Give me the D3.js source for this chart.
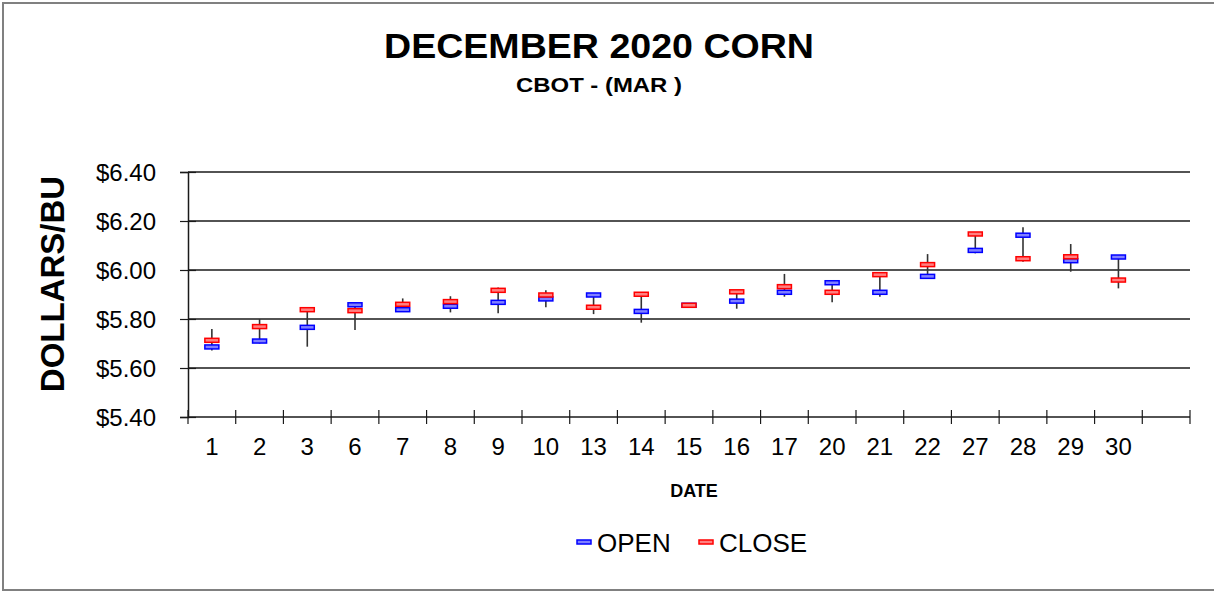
<!DOCTYPE html>
<html>
<head>
<meta charset="utf-8">
<script src="https://cdn.jsdelivr.net/npm/d3@7"></script>
<style>
  body { margin: 0; background: #fff; }
  text { font-family: "Liberation Sans", Arial, sans-serif; fill: #000; }
</style>
</head>
<body>
<div id="chart"></div>
<script>
// Trading days in the month
const dates = ["1","2","3","6","7","8","9","10","13","14","15","16","17","20","21","22","27","28","29","30"];
const openPrices  = [5.686, 5.710, 5.766, 5.858, 5.838, 5.852, 5.868, 5.882, 5.898, 5.831, 5.856, 5.873, 5.909, 5.948, 5.909, 5.974, 6.080, 6.142, 6.038, 6.053];
const closePrices = [5.713, 5.769, 5.838, 5.834, 5.860, 5.871, 5.917, 5.898, 5.848, 5.901, 5.856, 5.911, 5.932, 5.909, 5.981, 6.022, 6.147, 6.046, 6.054, 5.959];
const highPrices  = [5.759, 5.800, 5.840, 5.860, 5.884, 5.893, 5.929, 5.917, 5.898, 5.909, 5.856, 5.911, 5.984, 5.948, 5.981, 6.065, 6.147, 6.174, 6.106, 6.053];
const lowPrices   = [5.671, 5.700, 5.687, 5.755, 5.835, 5.827, 5.823, 5.848, 5.820, 5.785, 5.856, 5.842, 5.891, 5.868, 5.891, 5.974, 6.068, 6.034, 5.993, 5.925];
const yTicks = [5.40, 5.60, 5.80, 6.00, 6.20, 6.40];

const width = 1214, height = 591;
const plotLeft = 188, plotRight = 1190, plotTop = 172, plotBottom = 417;

const svg = d3.select("#chart").append("svg")
  .attr("width", width)
  .attr("height", height);

// outer frame
svg.append("rect")
  .attr("x", 3).attr("y", 3)
  .attr("width", width + 10).attr("height", 587)
  .attr("fill", "none")
  .attr("stroke", "#808080")
  .attr("stroke-width", 2);

// one empty slot after the last date
const step = (plotRight - plotLeft) / (dates.length + 1);
const x = d3.scaleBand()
  .domain(dates)
  .range([plotLeft, plotLeft + step * dates.length]);

const y = d3.scaleLinear()
  .domain([5.40, 6.40])
  .range([plotBottom, plotTop]);

// gridlines
svg.append("g").selectAll("line")
  .data(yTicks.slice(1))
  .join("line")
  .attr("x1", plotLeft).attr("x2", plotRight)
  .attr("y1", d => y(d)).attr("y2", d => y(d))
  .attr("stroke", "#1a1a1a")
  .attr("stroke-width", 1.5);

// y axis
const yAxis = svg.append("g")
  .attr("transform", `translate(${plotLeft},0)`)
  .call(d3.axisLeft(y).tickValues(yTicks).tickSize(8).tickPadding(24).tickFormat(d3.format("$.2f")));
yAxis.select(".domain").attr("stroke", "#1a1a1a").attr("stroke-width", 1.5);
yAxis.selectAll(".tick line").attr("x2", 8).attr("x1", -8).attr("stroke", "#1a1a1a").attr("stroke-width", 1.2);
yAxis.selectAll(".tick text").attr("font-size", 24).attr("font-family", "Liberation Sans, Arial, sans-serif").attr("dy", "0.36em");

// x axis line and boundary ticks
svg.append("line")
  .attr("x1", plotLeft).attr("x2", plotRight)
  .attr("y1", plotBottom).attr("y2", plotBottom)
  .attr("stroke", "#1a1a1a").attr("stroke-width", 1.5);
svg.append("g").selectAll("line")
  .data(d3.range(dates.length + 2))
  .join("line")
  .attr("x1", i => plotLeft + i * step).attr("x2", i => plotLeft + i * step)
  .attr("y1", plotBottom - 7).attr("y2", plotBottom + 7)
  .attr("stroke", "#1a1a1a").attr("stroke-width", 1.2);

svg.append("g").selectAll("text")
  .data(dates)
  .join("text")
  .attr("x", d => x(d) + x.bandwidth() / 2)
  .attr("y", 455)
  .attr("text-anchor", "middle")
  .attr("font-size", 24)
  .text(d => d);

// titles
svg.append("text")
  .attr("x", 599).attr("y", 58)
  .attr("text-anchor", "middle")
  .attr("font-size", 35).attr("font-weight", "bold")
  .attr("textLength", 430).attr("lengthAdjust", "spacingAndGlyphs")
  .text("DECEMBER 2020 CORN");
svg.append("text")
  .attr("x", 599).attr("y", 92)
  .attr("text-anchor", "middle")
  .attr("font-size", 21).attr("font-weight", "bold")
  .attr("textLength", 166).attr("lengthAdjust", "spacingAndGlyphs")
  .text("CBOT - (MAR )");
svg.append("text")
  .attr("x", 694).attr("y", 497)
  .attr("text-anchor", "middle")
  .attr("font-size", 18).attr("font-weight", "bold")
  .text("DATE");
svg.append("text")
  .attr("transform", "translate(64,284) rotate(-90)")
  .attr("text-anchor", "middle")
  .attr("font-size", 33).attr("font-weight", "bold")
  .text("DOLLARS/BU");

// high-low whiskers
const rows = dates.map((d, i) => ({
  date: d, open: openPrices[i], close: closePrices[i], high: highPrices[i], low: lowPrices[i]
}));
const cx = d => x(d.date) + x.bandwidth() / 2;

svg.append("g").selectAll("line")
  .data(rows)
  .join("line")
  .attr("x1", cx).attr("x2", cx)
  .attr("y1", d => y(d.high)).attr("y2", d => y(d.low))
  .attr("stroke", "#333")
  .attr("stroke-width", 1.6);

function dashes(key, stroke, fill) {
  svg.append("g").selectAll("rect")
    .data(rows)
    .join("rect")
    .attr("x", d => cx(d) - 7)
    .attr("y", d => y(d[key]) - 2)
    .attr("width", 14).attr("height", 4)
    .attr("fill", fill)
    .attr("stroke", stroke)
    .attr("stroke-width", 1.5);
}
dashes("open", "#0000ff", "#8080ff");
dashes("close", "#ff0000", "#ff8080");

// legend
const legend = [
  { name: "OPEN", stroke: "#0000ff", fill: "#8080ff", x: 577 },
  { name: "CLOSE", stroke: "#ff0000", fill: "#ff8080", x: 699 }
];
const lg = svg.append("g").selectAll("g")
  .data(legend)
  .join("g")
  .attr("transform", d => `translate(${d.x},542)`);
lg.append("rect")
  .attr("x", 0).attr("y", -2)
  .attr("width", 14).attr("height", 4)
  .attr("fill", d => d.fill)
  .attr("stroke", d => d.stroke)
  .attr("stroke-width", 1.5);
lg.append("text")
  .attr("x", 20).attr("y", 10)
  .attr("font-size", 26)
  .text(d => d.name);
</script>
</body>
</html>
